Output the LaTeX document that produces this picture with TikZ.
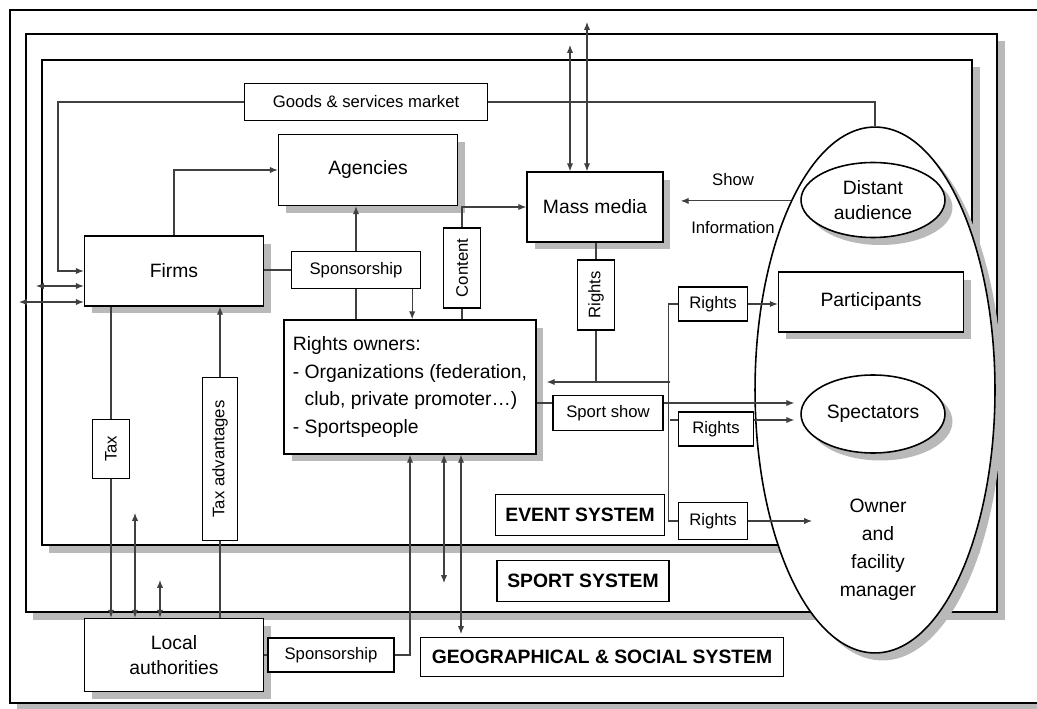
\documentclass[tikz,border=0pt]{standalone}
\usepackage{fontspec}
\setmainfont{Liberation Sans}
\usepackage{tikz}
\usetikzlibrary{shapes.geometric,arrows.meta,positioning,calc,shadows}
\tikzset{
  bigfont/.style={font=\fontsize{11}{14.5}\selectfont},
  smallfont/.style={font=\fontsize{9.5}{11}\selectfont},
  box/.style={rectangle, draw, line width=0.9pt, fill=white, align=center, inner sep=2pt, bigfont},
  shadowbox/.style={box, drop shadow={shadow xshift=0.15cm, shadow yshift=-0.15cm, fill=gray!55, opacity=1}},
  ellbox/.style={shadowbox, ellipse, inner sep=0pt},
  tagbox/.style={rectangle, draw, line width=0.8pt, fill=white, inner sep=1pt, smallfont},
  sysbox/.style={rectangle, draw, line width=0.9pt, fill=white, font=\fontsize{11}{13}\selectfont\bfseries},
  sysframe/.style={draw, line width=1pt, fill=white, drop shadow={shadow xshift=0.15cm, shadow yshift=-0.15cm, fill=gray!55, opacity=1}},
  conn/.style={line width=0.6pt, black!75},
  arrow/.style={conn, -{Latex[length=4.5pt,width=3.6pt]}},
  biarrow/.style={conn, {Latex[length=4.5pt,width=3.6pt]}-{Latex[length=4.5pt,width=3.6pt]}},
}
\begin{document}
\begin{tikzpicture}[x=0.02cm, y=-0.02cm]
  \useasboundingbox (0,0) rectangle (1037,709);
  \clip (0,0) rectangle (1037,709);

  % system frames
  \draw[sysframe] (10,10) rectangle (1060,703);
  \draw[sysframe] (26,34) rectangle (997,612);
  \draw[sysframe] (42,60) rectangle (972,545);

  % audiences
  \node[ellbox, minimum width=4.8cm, minimum height=10.52cm] (bigell) at (875,390) {};
  \node[ellbox, minimum width=2.88cm, minimum height=1.5cm] (distant) at (873,200) {Distant\\audience};
  \node[shadowbox, minimum width=3.7cm, minimum height=1.2cm] (participants) at (871,302) {Participants};
  \node[ellbox, minimum width=2.88cm, minimum height=1.56cm] (spectators) at (873,414) {Spectators};
  \node[align=center, font=\fontsize{11}{15.9}\selectfont] (owner) at (878,550) {Owner\\and\\facility\\manager};

  % actors
  \node[tagbox, minimum width=4.86cm, minimum height=0.74cm] (goods) at (366,102) {Goods \& services market};
  \node[shadowbox, minimum width=3.58cm, minimum height=1.42cm] (agencies) at (368,170) {Agencies};
  \node[shadowbox, minimum width=3.58cm, minimum height=1.4cm] (firms) at (174,271) {Firms};
  \node[tagbox, minimum width=2.58cm, minimum height=0.74cm] (spons1) at (356,270) {Sponsorship};
  \node[tagbox, minimum width=0.74cm, minimum height=1.6cm] (content) at (462,268) {\rotatebox{90}{Content}};
  \node[shadowbox, minimum width=2.72cm, minimum height=1.4cm] (massmedia) at (595,207) {Mass media};
  \node[tagbox, minimum width=0.74cm, minimum height=1.4cm] (rightsmm) at (596,295) {\rotatebox{90}{Rights}};
  \node[shadowbox, minimum width=5.04cm, minimum height=2.68cm, align=left,
        font=\fontsize{11}{15.8}\selectfont] (rowners) at (410,387)
        {Rights owners:\\- Organizations (federation,\\\phantom{- }club, private promoter\ldots)\\- Sportspeople};
  \node[tagbox, minimum width=1.38cm, minimum height=0.68cm] (rp) at (713,304) {Rights};
  \node[tagbox, minimum width=2.2cm, minimum height=0.7cm] (sportshow) at (608,413) {Sport show};
  \node[tagbox, minimum width=1.5cm, minimum height=0.68cm] (rs) at (716,429) {Rights};
  \node[tagbox, minimum width=1.38cm, minimum height=0.74cm] (ro2) at (713,521) {Rights};
  \node[tagbox, minimum width=0.74cm, minimum height=1.18cm] (tax) at (111,449) {\rotatebox{90}{Tax}};
  \node[tagbox, minimum width=0.7cm, minimum height=3.26cm] (taxadv) at (220,459) {\rotatebox{90}{Tax advantages}};
  \node[shadowbox, minimum width=3.58cm, minimum height=1.46cm] (la) at (174,655) {Local\\authorities};
  \node[tagbox, minimum width=2.52cm, minimum height=0.68cm] (spons2) at (331,655) {Sponsorship};

  % system labels
  \node[sysbox, minimum width=3.38cm, minimum height=0.82cm] (event) at (580,515) {EVENT SYSTEM};
  \node[sysbox, minimum width=3.44cm, minimum height=0.82cm] (sport) at (583,581) {SPORT SYSTEM};
  \node[sysbox, minimum width=7.26cm, minimum height=0.78cm] (geo) at (602,657) {GEOGRAPHICAL \& SOCIAL SYSTEM};

  % market and agencies
  \coordinate (gl) at (58,102);
  \draw[arrow] (goods.west) -- (gl) |- (firms.west);
  \draw[conn] (goods.east) -| (bigell.north);
  \draw[arrow] (firms.north) |- (agencies.west);
  \coordinate (ssa) at (36,286);
  \coordinate (gsa) at (19,302);
  \draw[biarrow] (ssa) -- (ssa -| firms.west);
  \draw[biarrow] (gsa) -- (gsa -| firms.west);

  % sponsorship
  \draw[conn] (firms.east |- spons1) -- (spons1.west);
  \draw[arrow] (spons1.north) -- (spons1.north |- agencies.south);
  \draw[conn] (spons1.south) -- (spons1.south |- rowners.north);
  \coordinate (sd) at ($(spons1.south east)+(-9,0)$);
  \draw[arrow] (sd) -- (sd |- rowners.north);

  % media
  \draw[conn] (content.south |- rowners.north) -- (content.south);
  \draw[arrow] (content.north) |- (massmedia.west);
  \coordinate (mma) at (570,45);
  \coordinate (mmb) at (587,22);
  \draw[biarrow] (mma) -- (mma |- massmedia.north);
  \draw[biarrow] (mmb) -- (mmb |- massmedia.north);
  \coordinate (sj) at ($(bigell.114 -| massmedia.east)+(17,0)$);
  \draw[arrow] (bigell.114) -- (sj);
  \node[smallfont] (show) at (733,180) {Show};
  \node[smallfont] (info) at (733,228) {Information};

  % rights
  \draw[conn] (massmedia.south -| rightsmm) -- (rightsmm.north);
  \coordinate (rj) at (670,382);
  \draw[conn] (rightsmm.south) -- (rightsmm.south |- rj);
  \draw[arrow] (rj) -- ($(rj -| rowners.east)+(10,0)$);
  \draw[conn] (rp.west) -- ++(-9,0) |- (ro2.west);
  \draw[arrow] (rp.east) -- (rp.east -| participants.west);
  \coordinate (specin) at ($(spectators.west)+(-6,0)$);
  \coordinate (sw) at ($(sportshow.west)+(0,-10)$);
  \coordinate (se) at ($(sportshow.east)+(0,-10)$);
  \draw[conn] (sw -| rowners.east) -- (sw);
  \draw[arrow] (se) -- (se -| specin);
  \coordinate (rw) at ($(rs.west)+(0,-9)$);
  \coordinate (re) at ($(rs.east)+(0,-9)$);
  \draw[conn] (rw -| rj) -- (rw);
  \draw[arrow] (re) -- (re -| specin);
  \coordinate (ownin) at (812,521);
  \draw[arrow] (ro2.east) -- (ownin);

  % territory
  \draw[arrow] (spons2.east) -| (rowners.south);
  \coordinate (ssr) at (444,583);
  \coordinate (gsr) at (461,634);
  \draw[biarrow] (ssr) -- (ssr |- rowners.south);
  \draw[biarrow] (gsr) -- (gsr |- rowners.south);
  \draw[conn] (firms.south -| tax) -- (tax.north);
  \draw[arrow] (tax.south) -- (tax.south |- la.north);
  \draw[conn] (la.north -| taxadv) -- (taxadv.south);
  \draw[arrow] (taxadv.north) -- (taxadv.north |- firms.south);
  \coordinate (laa) at (135,513);
  \coordinate (lab) at (160,580);
  \draw[biarrow] (laa) -- (laa |- la.north);
  \draw[biarrow] (lab) -- (lab |- la.north);
  \draw[conn] (la.east) -- (spons2.west);
\end{tikzpicture}
\end{document}
